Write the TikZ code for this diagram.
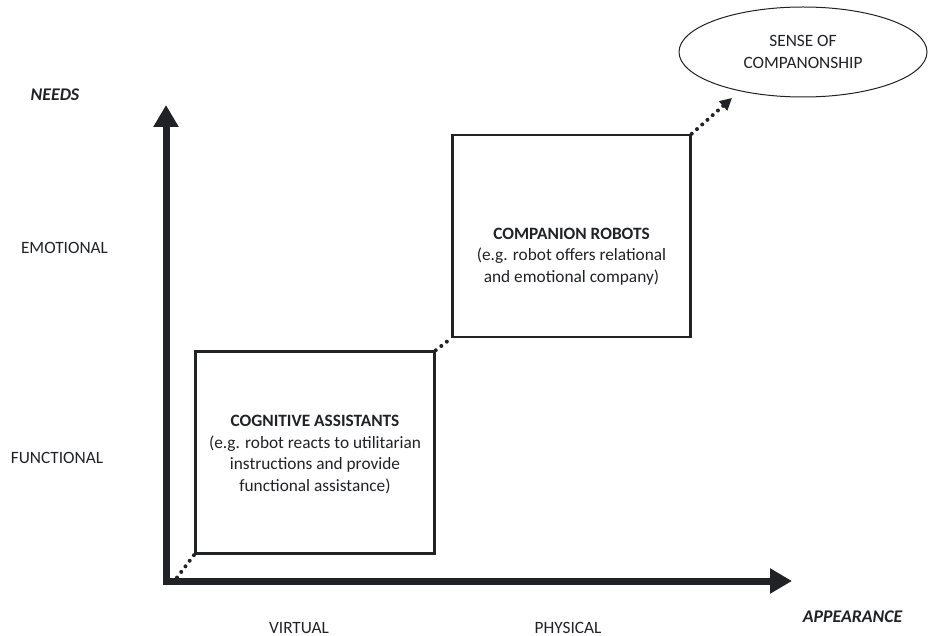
\documentclass[tikz,border=0pt]{standalone}
\usepackage{fontspec}
\setmainfont{Carlito}
\usetikzlibrary{arrows.meta,shapes.geometric}
\definecolor{ink}{RGB}{32,34,37}
\begin{document}
\begin{tikzpicture}[x=1pt,y=-1pt,
  every node/.style={inner sep=0pt, text=ink},
  lbl/.style={anchor=base, font=\fontsize{17.3}{21.5}\selectfont},
  axislbl/.style={anchor=base, font=\fontsize{17.8}{21.5}\selectfont\bfseries\itshape},
  axis/.style={draw=ink, line width=7pt, line join=miter,
    {Triangle[length=22pt,width=24pt]}-{Triangle[length=22pt,width=24pt]}},
  stagebox/.style={draw=ink, line width=2.5pt, rectangle},
  boxtext/.style={anchor=north, align=center, font=\fontsize{17.3}{21.5}\selectfont},
  dotline/.style={draw=ink, line width=4pt, line cap=round, dash pattern=on 0pt off 7pt},
  goal/.style={draw=ink, line width=1pt, ellipse, minimum width=248pt, minimum height=90pt,
    align=center, font=\fontsize{17.3}{22.3}\selectfont}
]
\useasboundingbox (0,0) rectangle (928,636);

% axes
\coordinate (O) at (166,581);
\coordinate (ytip) at (166,105);
\coordinate (xtip) at (792,581);
\draw[axis] (ytip) -- (O) -- (xtip);

% axis labels
\node[axislbl] (needs) at (55,101) {NEEDS};
\node[lbl] (emo) at (64.5,253) {EMOTIONAL};
\node[lbl] (func) at (57,463) {FUNCTIONAL};
\node[lbl] (virt) at (299,633) {VIRTUAL};
\node[lbl] (phys) at (568,633) {PHYSICAL};
\node[axislbl] (app) at (852.5,622) {APPEARANCE};

% the two stages
\node[stagebox, minimum width=239pt, minimum height=202pt] (cog) at (315,452.5) {};
\node[stagebox, minimum width=238pt, minimum height=202pt] (comp) at (571.5,236) {};
\node[boxtext] (cogtext) at (315,415) {\textbf{COGNITIVE ASSISTANTS}\\(e.g. robot reacts to utilitarian\\instructions and provide\\functional assistance)};
\node[boxtext] (comptext) at (571.5,227.5) {\textbf{COMPANION ROBOTS}\\(e.g. robot offers relational\\and emotional company)};

% outcome
\node[goal] (sense) at (803,52) {SENSE OF\\COMPANONSHIP};

% dotted links
\coordinate (d0) at (177,577.5);
\coordinate (tip) at (732,98);
\draw[dotline] (d0) -- (cog.south west);
\draw[dotline] (cog.north east) -- (comp.south west);
\draw[dotline, -{Triangle[length=12pt,width=12pt]}] (comp.north east) -- (tip);
\end{tikzpicture}
\end{document}
